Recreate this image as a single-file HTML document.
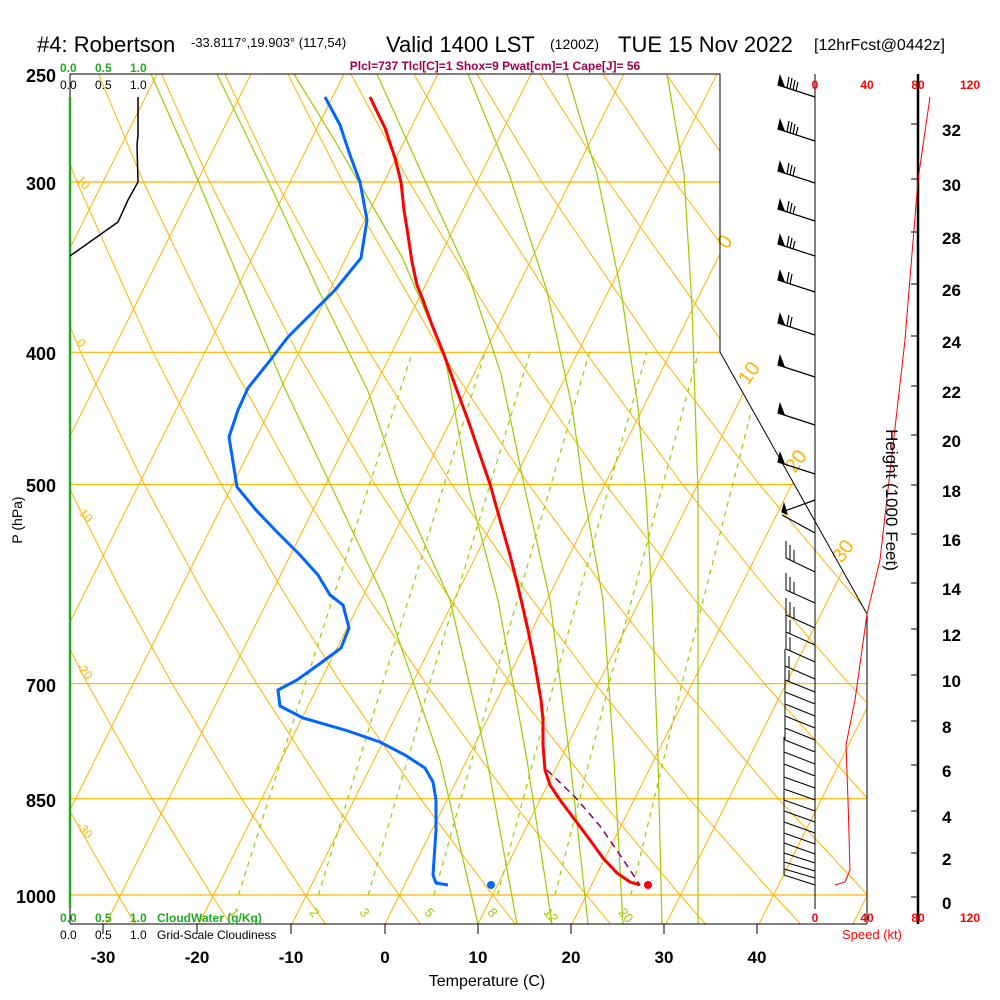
<!DOCTYPE html>
<html><head><meta charset="utf-8"><style>
html,body{margin:0;padding:0;background:#fff;}
svg{display:block;font-family:"Liberation Sans",sans-serif;}
</style></head><body>
<svg width="1000" height="1000" viewBox="0 0 1000 1000" xmlns="http://www.w3.org/2000/svg">
<defs><clipPath id="c"><polygon points="70,74 720,74 720,352 867,614 867,924 70,924"/></clipPath></defs>
<rect width="1000" height="1000" fill="#fff"/>
<g clip-path="url(#c)" fill="none">
<g stroke="#ffb400" stroke-width="1.2">
<line x1="70" x2="867" y1="182" y2="182"/><line x1="70" x2="867" y1="352.3" y2="352.3"/><line x1="70" x2="867" y1="484.5" y2="484.5"/><line x1="70" x2="867" y1="683.7" y2="683.7"/><line x1="70" x2="867" y1="798.7" y2="798.7"/><line x1="70" x2="867" y1="895" y2="895"/>
</g>
<g stroke="#ffb400" stroke-width="1">
<line x1="-268" y1="924" x2="157" y2="74"/><line x1="-174" y1="924" x2="251" y2="74"/><line x1="-81" y1="924" x2="344" y2="74"/><line x1="13" y1="924" x2="438" y2="74"/><line x1="106" y1="924" x2="531" y2="74"/><line x1="199" y1="924" x2="624" y2="74"/><line x1="292" y1="924" x2="717" y2="74"/><line x1="385" y1="924" x2="810" y2="74"/><line x1="478" y1="924" x2="903" y2="74"/><line x1="572" y1="924" x2="997" y2="74"/><line x1="666" y1="924" x2="1091" y2="74"/><line x1="759" y1="924" x2="1184" y2="74"/><line x1="853" y1="924" x2="1278" y2="74"/>
<polyline points="135.4,923.9 117.9,895 62.6,798.7 2.8,683.7"/>
<polyline points="230.4,923.9 211.6,895 152.1,798.7 87.5,683.7 40.8,592.4 -9.3,484.5"/>
<polyline points="325.4,923.9 305.3,895 241.6,798.7 172.1,683.7 121.8,592.4 67.5,484.5 8.7,352.3"/>
<polyline points="420.4,923.9 399,895 331,798.7 256.7,683.7 202.8,592.4 144.4,484.5 80.8,352.3 10.5,182 -27.5,74"/>
<polyline points="515.4,923.9 492.7,895 420.5,798.7 341.3,683.7 283.8,592.4 221.3,484.5 152.9,352.3 76.9,182 35.6,74"/>
<polyline points="610.4,923.9 586.4,895 509.9,798.7 425.9,683.7 364.8,592.4 298.1,484.5 225,352.3 143.4,182 98.6,74"/>
<polyline points="705.4,923.9 680.1,895 599.4,798.7 510.6,683.7 445.7,592.4 375,484.5 297.2,352.3 209.8,182 161.7,74"/>
<polyline points="800.4,923.9 773.8,895 688.8,798.7 595.2,683.7 526.7,592.4 451.9,484.5 369.3,352.3 276.2,182 224.7,74"/>
<polyline points="895.4,923.9 867.5,895 778.3,798.7 679.8,683.7 607.7,592.4 528.7,484.5 441.4,352.3 342.7,182 287.8,74"/>
<polyline points="990.4,923.9 961.2,895 867.7,798.7 764.4,683.7 688.7,592.4 605.6,484.5 513.5,352.3 409.1,182 350.9,74"/>
<polyline points="1085.4,923.9 1054.9,895 957.2,798.7 849,683.7 769.7,592.4 682.5,484.5 585.6,352.3 475.5,182 413.9,74"/>
<polyline points="1148.6,895 1046.6,798.7 933.7,683.7 850.6,592.4 759.4,484.5 657.7,352.3 541.9,182 477,74"/>
<polyline points="1136.1,798.7 1018.3,683.7 931.6,592.4 836.2,484.5 729.8,352.3 608.4,182 540.1,74"/>
<polyline points="1102.9,683.7 1012.6,592.4 913.1,484.5 801.9,352.3 674.8,182 603.1,74"/>
<polyline points="1093.6,592.4 990,484.5 874.1,352.3 741.2,182 666.2,74"/>
<polyline points="1066.8,484.5 946.2,352.3 807.6,182 729.3,74"/>
</g>
<g stroke="#99cc00" stroke-width="1.2">
<polyline points="151,74 194,171 244,291 286,391 335,494 385,600 440,760 478,924"/>
<polyline points="217,74 265,174 319,291 368,391 402,494 450,600 487,760 517,924"/>
<polyline points="294,74 335,141 402,257 445,357 470,494 498,600 527,760 552,924"/>
<polyline points="377,74 422,174 468,274 501,374 526,494 550,600 570,760 588,924"/>
<polyline points="468,74 509,174 547,291 572,407 584,494 603,600 614,760 623,924"/>
<polyline points="567,74 597,174 621,291 638,407 646,494 652,600 658,760 662,924"/>
<polyline points="667,74 684,174 692,307 698,494 698,924"/>
</g>
<g stroke="#99cc00" stroke-width="1.2" stroke-dasharray="5,5">
<polyline points="238.5,895 305.2,683.7 412.3,352.3"/>
<polyline points="318.5,895 382.5,683.7 485,352.3"/>
<polyline points="368.2,895 429.7,683.7 530.1,352.3"/>
<polyline points="434,895 493.1,683.7 589.5,352.3"/>
<polyline points="497.5,895 553.9,683.7 646.7,352.3"/>
<polyline points="554.9,895 609.2,683.7 698.5,352.3"/>
<polyline points="630.9,895 681.9,683.7 766.3,352.3"/>
</g>
</g>
<g font-size="13" fill="#99cc00">
<text x="232" y="914" transform="rotate(50 232 910)">1</text>
<text x="312" y="914" transform="rotate(50 312 910)">2</text>
<text x="362" y="914" transform="rotate(50 362 910)">3</text>
<text x="427" y="914" transform="rotate(50 427 910)">5</text>
<text x="490" y="914" transform="rotate(50 490 910)">8</text>
<text x="546" y="914" transform="rotate(50 546 910)">12</text>
<text x="621" y="914" transform="rotate(50 621 910)">20</text>
</g>
<g font-size="12" fill="#ffb400">
<text x="76" y="180" transform="rotate(50 76 180)">10</text>
<text x="76" y="343" transform="rotate(50 76 343)">0</text>
<text x="76" y="510" transform="rotate(50 76 510)">-10</text>
<text x="76" y="667" transform="rotate(50 76 667)">-20</text>
<text x="76" y="826" transform="rotate(50 76 826)">-30</text>
</g>
<g font-size="20" fill="#ffb400">
<text x="727" y="250" transform="rotate(-55 727 250)">0</text>
<text x="748" y="386" transform="rotate(-55 748 386)">10</text>
<text x="795" y="474" transform="rotate(-55 795 474)">20</text>
<text x="842" y="564" transform="rotate(-55 842 564)">30</text>
</g>
<polyline points="70,74 720,74 720,352 867,614 867,924" fill="none" stroke="#000"/>
<line x1="70" y1="74" x2="70" y2="97" stroke="#000"/>
<line x1="70" y1="97" x2="70" y2="908" stroke="#22aa22" stroke-width="2.5"/>
<line x1="70" y1="908" x2="70" y2="924" stroke="#000"/>
<line x1="70" y1="924" x2="867" y2="924" stroke="#000"/>
<g stroke="#000"><line x1="103" x2="103" y1="924" y2="934"/><line x1="197" x2="197" y1="924" y2="934"/><line x1="291" x2="291" y1="924" y2="934"/><line x1="385" x2="385" y1="924" y2="934"/><line x1="478" x2="478" y1="924" y2="934"/><line x1="571" x2="571" y1="924" y2="934"/><line x1="664" x2="664" y1="924" y2="934"/><line x1="757" x2="757" y1="924" y2="934"/></g>
<line x1="815" y1="74" x2="815" y2="909" stroke="#000"/>
<line x1="918" y1="74" x2="918" y2="924" stroke="#000" stroke-width="2.5"/>
<g stroke="#000"><line x1="911" x2="918" y1="897" y2="897"/><line x1="911" x2="918" y1="853" y2="853"/><line x1="911" x2="918" y1="811" y2="811"/><line x1="911" x2="918" y1="765" y2="765"/><line x1="911" x2="918" y1="721" y2="721"/><line x1="911" x2="918" y1="675" y2="675"/><line x1="911" x2="918" y1="629" y2="629"/><line x1="911" x2="918" y1="583" y2="583"/><line x1="911" x2="918" y1="534" y2="534"/><line x1="911" x2="918" y1="485" y2="485"/><line x1="911" x2="918" y1="435" y2="435"/><line x1="911" x2="918" y1="386" y2="386"/><line x1="911" x2="918" y1="336" y2="336"/><line x1="911" x2="918" y1="284" y2="284"/><line x1="911" x2="918" y1="232" y2="232"/><line x1="911" x2="918" y1="179" y2="179"/><line x1="911" x2="918" y1="124" y2="124"/></g>
<g font-size="17" font-weight="bold"><text x="942" y="909">0</text><text x="942" y="865">2</text><text x="942" y="823">4</text><text x="942" y="777">6</text><text x="942" y="733">8</text><text x="942" y="687">10</text><text x="942" y="641">12</text><text x="942" y="595">14</text><text x="942" y="546">16</text><text x="942" y="497">18</text><text x="942" y="447">20</text><text x="942" y="398">22</text><text x="942" y="348">24</text><text x="942" y="296">26</text><text x="942" y="244">28</text><text x="942" y="191">30</text><text x="942" y="136">32</text></g>
<g stroke="#000" stroke-width="1.2" fill="#000">
<path d="M815,97 L778,85 M787,88 l2,-11 M790,89 l2,-11 M793,90 l2,-10 M796,91 l2,-9" fill="none"/><polygon points="778,85 780,76 784,86"/>
<path d="M815,141 L778,129 M787,132 l2,-11 M790,133 l2,-11 M793,134 l2,-10 M796,135 l2,-8" fill="none"/><polygon points="778,129 780,120 784,130"/>
<path d="M815,183 L778,171 M787,174 l2,-11 M790,175 l2,-10 M793,176 l2,-9" fill="none"/><polygon points="778,171 780,162 784,172"/>
<path d="M815,221 L778,209 M787,212 l2,-11 M790,213 l2,-10 M793,214 l2,-8" fill="none"/><polygon points="778,209 780,200 784,210"/>
<path d="M815,256 L778,244 M787,247 l2,-11 M790,248 l2,-10 M793,249 l2,-8" fill="none"/><polygon points="778,244 780,235 784,245"/>
<path d="M815,292 L778,280 M787,283 l2,-11 M790,284 l2,-10" fill="none"/><polygon points="778,280 780,271 784,281"/>
<path d="M815,335 L778,323 M787,326 l2,-11 M790,327 l2,-10" fill="none"/><polygon points="778,323 780,314 784,324"/>
<path d="M815,377 L778,365" fill="none"/><polygon points="778,365 780,356 784,366"/>
<path d="M815,425 L778,413" fill="none"/><polygon points="778,413 780,404 784,414"/>
<path d="M815,474 L778,462" fill="none"/><polygon points="778,462 780,453 784,463"/>
<path d="M815,500 L782,512" fill="none"/><polygon points="782,512 784,504 787,514"/>
<path d="M815,533 L782,515" fill="none"/>
</g>
<g stroke="#000" stroke-width="1" fill="none">
<path d="M815,572 L786,558 M786,558 v-17 M790,560 v-15 M794,562 v-12"/>
<path d="M815,603 L786,590 M786,590 v-17 M790,592 v-15 M794,594 v-12"/>
<path d="M815,628 L786,615 M786,615 v-17 M790,617 v-15 M794,619 v-12"/>
<path d="M815,645 L786,632 M786,632 v-17 M790,634 v-14"/>
<path d="M815,662 L786,649 M786,649 v-17 M790,651 v-14"/>
<path d="M815,679 L785,666 M785,666 v-17 M789,668 v-12"/>
<path d="M815,692 L785,680 M785,680 v-15 M789,682 v-12"/>
<path d="M815,704 L785,692 M785,692 v-15"/>
<path d="M815,716 L785,704 M785,704 v-15"/>
<path d="M815,728 L785,716 M785,716 v-15"/>
<path d="M815,740 L785,728 M785,728 v-15"/>
<path d="M815,752 L785,740 M785,740 v-15"/>
<path d="M815,764 L784,752 M784,752 v-15"/>
<path d="M815,776 L784,764 M784,764 v-15"/>
<path d="M815,788 L784,777 M784,777 v-15"/>
<path d="M815,800 L784,789 M784,789 v-15"/>
<path d="M815,811 L784,800 M784,800 v-15"/>
<path d="M815,822 L784,811 M784,811 v-15"/>
<path d="M815,833 L784,822 M784,822 v-15"/>
<path d="M815,844 L784,833 M784,833 v-15"/>
<path d="M815,854 L784,843 M784,843 v-15"/>
<path d="M815,863 L784,853 M784,853 v-15"/>
<path d="M815,871 L784,862 M784,862 v-15"/>
<path d="M815,878 L784,869 M784,869 v-15"/>
<path d="M815,885 L784,875 M784,875 v-15"/>
</g>
<polyline points="930,97 918,180 905,340 880,560 867,614 855,700 846,745 848,800 850,870 845,882 835,885" fill="none" stroke="#f00"/>
<polyline points="138,97 138,135 137,145 138,182 128,200 118,222 70,256" fill="none" stroke="#000" stroke-width="1.5"/>
<polyline points="325,97 340,125 350,155 360,182 367,220 361,258 335,290 310,315 288,337 268,363 248,388 238,410 229,437 233,462 237,487 256,510 275,530 300,555 318,575 330,595 343,605 349,628 341,648 318,665 297,680 278,690 280,706 303,718 345,730 380,742 405,755 425,768 433,782 436,800 436,830 434,860 433,875 436,883 448,885" fill="none" stroke="#0066ff" stroke-width="3"/>
<circle cx="491" cy="885" r="4" fill="#0066ff"/>
<polyline points="547,770 575,797 600,826 620,855 640,885" fill="none" stroke="#800060" stroke-width="1.5" stroke-dasharray="7,5"/>
<polyline points="370,97 385,128 395,158 401,182 404,210 408,235 412,262 417,285 423,300 432,325 443,352 455,385 468,420 480,455 490,484 500,520 510,555 520,595 528,630 535,665 541,700 543,720 543,745 545,770 550,785 560,800 575,820 590,840 603,858 617,873 630,882 640,885" fill="none" stroke="#f00" stroke-width="3"/>
<circle cx="648" cy="885" r="4" fill="#f00"/>
<text x="37" y="52" font-size="22">#4: Robertson</text>
<text x="191" y="47" font-size="13">-33.8117°,19.903° (117,54)</text>
<text x="386" y="52" font-size="22">Valid 1400 LST</text>
<text x="550" y="49" font-size="14">(1200Z)</text>
<text x="618" y="52" font-size="22">TUE 15 Nov 2022</text>
<text x="814" y="50" font-size="16">[12hrFcst@0442z]</text>
<text x="495" y="70" font-size="12" font-weight="bold" fill="#a0004a" text-anchor="middle">Plcl=737 Tlcl[C]=1 Shox=9 Pwat[cm]=1 Cape[J]= 56</text>
<g font-size="12" font-weight="bold" fill="#22aa22"><text x="60" y="72">0.0</text><text x="95" y="72">0.5</text><text x="130" y="72">1.0</text></g>
<g font-size="12"><text x="60" y="89">0.0</text><text x="95" y="89">0.5</text><text x="130" y="89">1.0</text></g>
<g font-size="12" font-weight="bold" fill="#22aa22"><text x="60" y="922">0.0</text><text x="95" y="922">0.5</text><text x="130" y="922">1.0</text><text x="157" y="922">CloudWater (g/Kg)</text></g>
<g font-size="12"><text x="60" y="939">0.0</text><text x="95" y="939">0.5</text><text x="130" y="939">1.0</text><text x="157" y="939">Grid-Scale Cloudiness</text></g>
<g font-size="18" font-weight="bold" text-anchor="end"><text x="56" y="82">250</text><text x="56" y="190">300</text><text x="56" y="360">400</text><text x="56" y="492">500</text><text x="56" y="692">700</text><text x="56" y="807">850</text><text x="56" y="903">1000</text></g>
<text transform="translate(22,520) rotate(-90)" font-size="14" text-anchor="middle">P (hPa)</text>
<g font-size="17" font-weight="bold" text-anchor="middle"><text x="103" y="963">-30</text><text x="197" y="963">-20</text><text x="291" y="963">-10</text><text x="385" y="963">0</text><text x="478" y="963">10</text><text x="571" y="963">20</text><text x="664" y="963">30</text><text x="757" y="963">40</text></g>
<text x="487" y="986" font-size="16" text-anchor="middle">Temperature (C)</text>
<g font-size="12" font-weight="bold" fill="#f00" text-anchor="middle"><text x="815" y="89">0</text><text x="867" y="89">40</text><text x="918" y="89">80</text><text x="970" y="89">120</text><text x="815" y="922">0</text><text x="867" y="922">40</text><text x="918" y="922">80</text><text x="970" y="922">120</text></g>
<text x="872" y="939" font-size="13" fill="#f00" text-anchor="middle">Speed (kt)</text>
<text transform="translate(886,500) rotate(90)" font-size="17" text-anchor="middle">Height (1000 Feet)</text>
</svg>
</body></html>
